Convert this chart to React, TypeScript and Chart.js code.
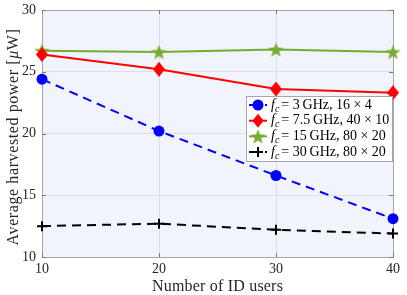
import React, { useEffect, useRef } from 'react';
import { Chart, registerables } from 'chart.js';
Chart.register(...registerables);

const users = [10, 20, 30, 40];
const power3GHz = [24.4, 20.2, 16.6, 13.1];
const power7GHz = [26.4, 25.2, 23.6, 23.3];
const power15GHz = [26.7, 26.6, 26.8, 26.6];
const power30GHz = [12.5, 12.7, 12.2, 11.9];
const legendFreqs = ['3', '7.5', '15', '30'];
const legendArrays = ['16 × 4', '40 × 10', '80 × 20', '80 × 20'];
const xTicks = [10, 20, 30, 40];
const yTicks = [10, 15, 20, 25, 30];

const FONT = '"Liberation Serif", "DejaVu Serif", serif';
const BLUE = '#0000FF';
const RED = '#FF0000';
const GREEN = '#77AC30';
const BLACK = '#000000';

function makeStar(size: number, color: string) {
  const c = document.createElement('canvas');
  c.width = size;
  c.height = size;
  const ctx = c.getContext('2d')!;
  const cx = size / 2, cy = size / 2 + size * 0.04;
  const R = size / 2 - 0.5, r = R * 0.42;
  ctx.beginPath();
  for (let i = 0; i < 10; i++) {
    const rad = i % 2 === 0 ? R : r;
    const a = -Math.PI / 2 + (i * Math.PI) / 5;
    const x = cx + rad * Math.cos(a), y = cy + rad * Math.sin(a);
    if (i === 0) ctx.moveTo(x, y); else ctx.lineTo(x, y);
  }
  ctx.closePath();
  ctx.fillStyle = color;
  ctx.fill();
  return c;
}

function drawMarker(ctx: CanvasRenderingContext2D, kind: string, x: number, y: number, star: HTMLCanvasElement) {
  ctx.save();
  ctx.setLineDash([]);
  if (kind === 'circle') {
    ctx.fillStyle = BLUE;
    ctx.beginPath();
    ctx.arc(x, y, 5.5, 0, Math.PI * 2);
    ctx.fill();
  } else if (kind === 'diamond') {
    ctx.fillStyle = RED;
    ctx.beginPath();
    ctx.moveTo(x, y - 7);
    ctx.lineTo(x + 5.5, y);
    ctx.lineTo(x, y + 7);
    ctx.lineTo(x - 5.5, y);
    ctx.closePath();
    ctx.fill();
  } else if (kind === 'star') {
    ctx.drawImage(star, x - star.width / 2, y - star.height / 2);
  } else {
    ctx.strokeStyle = BLACK;
    ctx.lineWidth = 2;
    ctx.beginPath();
    ctx.moveTo(x - 5, y);
    ctx.lineTo(x + 5, y);
    ctx.moveTo(x, y - 5);
    ctx.lineTo(x, y + 5);
    ctx.stroke();
  }
  ctx.restore();
}

export default function App() {
  const ref = useRef<HTMLCanvasElement>(null);
  useEffect(() => {
    document.body.style.margin = '0';
    const star = makeStar(17, GREEN);
    const diamond = document.createElement('canvas');
    diamond.width = 12; diamond.height = 15;
    {
      const d = diamond.getContext('2d')!;
      d.fillStyle = RED;
      d.beginPath();
      d.moveTo(6, 0); d.lineTo(12, 7.5); d.lineTo(6, 15); d.lineTo(0, 7.5);
      d.closePath(); d.fill();
    }
    const markers = ['circle', 'diamond', 'star', 'cross'];
    const colors = [BLUE, RED, GREEN, BLACK];
    const dashes = [[9, 6], [], [], [9, 6]];

    const framePlugin = {
      id: 'frame',
      beforeDraw(chart: any) {
        const { ctx, chartArea: a } = chart;
        ctx.save();
        ctx.fillStyle = '#FFFFFF';
        ctx.fillRect(0, 0, chart.width, chart.height);
        ctx.fillStyle = '#F1F5FB';
        ctx.fillRect(a.left, a.top, a.right - a.left, a.bottom - a.top);
        ctx.restore();
      },
      beforeDatasetsDraw(chart: any) {
        const { ctx, chartArea: a, scales } = chart;
        ctx.save();
        ctx.strokeStyle = '#A6A6A6';
        ctx.lineWidth = 1;
        ctx.setLineDash([]);
        ctx.strokeRect(Math.round(a.left) + 0.5, Math.round(a.top) + 0.5, Math.round(a.right - a.left), Math.round(a.bottom - a.top));
        ctx.strokeStyle = '#7A7A7A';
        ctx.beginPath();
        for (const v of yTicks) {
          const y = Math.round(scales.y.getPixelForValue(v)) + 0.5;
          ctx.moveTo(a.left, y); ctx.lineTo(a.left + 4, y);
          ctx.moveTo(a.right, y); ctx.lineTo(a.right - 4, y);
        }
        for (const v of xTicks) {
          const x = Math.round(scales.x.getPixelForValue(v)) + 0.5;
          ctx.moveTo(x, a.bottom); ctx.lineTo(x, a.bottom - 4);
          ctx.moveTo(x, a.top); ctx.lineTo(x, a.top + 4);
        }
        ctx.stroke();
        ctx.restore();
      },
      afterDraw(chart: any) {
        const { ctx, chartArea: a } = chart;
        ctx.save();
        // axis titles
        ctx.fillStyle = '#262626';
        ctx.textBaseline = 'middle';
        ctx.textAlign = 'center';
        ctx.font = `16px ${FONT}`;
        (ctx as any).letterSpacing = '0.2px';
        ctx.fillText('Number of ID users', (a.left + a.right) / 2, 287);
        // y title with italic mu
        ctx.save();
        ctx.translate(14, 137);
        ctx.rotate(-Math.PI / 2);
        (ctx as any).letterSpacing = '0.6px';
        const p1 = 'Average harvested power [';
        const p2 = 'μ';
        const p3 = 'W]';
        ctx.font = `16px ${FONT}`;
        const w1 = ctx.measureText(p1).width;
        const w3 = ctx.measureText(p3).width;
        ctx.font = `italic 16px ${FONT}`;
        const w2 = ctx.measureText(p2).width;
        let x = -(w1 + w2 + w3) / 2;
        ctx.textAlign = 'left';
        ctx.font = `16px ${FONT}`;
        ctx.fillText(p1, x, 0); x += w1;
        ctx.font = `italic 16px ${FONT}`;
        ctx.fillText(p2, x, 0); x += w2;
        ctx.font = `16px ${FONT}`;
        ctx.fillText(p3, x, 0);
        ctx.restore();
        (ctx as any).letterSpacing = '0px';

        // legend
        const lx = 246, ly = 96, lw = 146, lh = 65;
        ctx.fillStyle = '#FFFFFF';
        ctx.fillRect(lx, ly, lw, lh);
        ctx.strokeStyle = '#A6A6A6';
        ctx.lineWidth = 1;
        ctx.strokeRect(lx + 0.5, ly + 0.5, lw, lh);
        for (let i = 0; i < 4; i++) {
          const ry = ly + 9 + i * 15.7;
          ctx.strokeStyle = colors[i];
          ctx.lineWidth = 2;
          ctx.setLineDash(dashes[i].length ? [5, 3] : []);
          ctx.beginPath();
          ctx.moveTo(lx + 3, ry);
          ctx.lineTo(lx + 21, ry);
          ctx.stroke();
          ctx.setLineDash([]);
          drawMarker(ctx, markers[i], lx + 12, ry, star);
          let tx = lx + 25;
          ctx.fillStyle = '#000000';
          ctx.textAlign = 'left';
          ctx.textBaseline = 'middle';
          ctx.font = `italic 14px ${FONT}`;
          ctx.fillText('f', tx, ry);
          tx += ctx.measureText('f').width;
          ctx.font = `italic 10px ${FONT}`;
          ctx.fillText('c', tx, ry + 4);
          tx += ctx.measureText('c').width + 2;
          ctx.font = `14px ${FONT}`;
          const rest = `= ${legendFreqs[i]}\u2009GHz, ${legendArrays[i]}`;
          ctx.fillText(rest, tx, ry);
        }
        ctx.restore();
      },
    };

    const chart = new Chart(ref.current!, {
      type: 'line',
      data: {
        datasets: [
          {
            data: users.map((u, i) => ({ x: u, y: power3GHz[i] })),
            borderColor: BLUE, backgroundColor: BLUE, borderWidth: 2, borderDash: [9, 6],
            pointStyle: 'circle', pointRadius: 5.5, pointBorderWidth: 0, clip: false,
          },
          {
            data: users.map((u, i) => ({ x: u, y: power7GHz[i] })),
            borderColor: RED, backgroundColor: RED, borderWidth: 2,
            pointStyle: diamond as any, pointRadius: 7, clip: false,
          },
          {
            data: users.map((u, i) => ({ x: u, y: power15GHz[i] })),
            borderColor: GREEN, backgroundColor: GREEN, borderWidth: 2,
            pointStyle: star as any, pointRadius: 8, clip: false,
          },
          {
            data: users.map((u, i) => ({ x: u, y: power30GHz[i] })),
            borderColor: BLACK, backgroundColor: BLACK, borderWidth: 2, borderDash: [9, 6],
            pointStyle: 'cross', pointRadius: 5, pointBorderWidth: 2, clip: false,
          },
        ],
      },
      options: {
        responsive: false,
        animation: false,
        devicePixelRatio: 1,
        layout: { padding: { left: 0, right: 14, top: 9, bottom: 0 } },
        plugins: { legend: { display: false }, tooltip: { enabled: false } },
        elements: { line: { tension: 0 } },
        scales: {
          x: {
            type: 'linear', min: 10, max: 40,
            afterFit: (s: any) => { s.height = 38; s.paddingLeft = 0; s.paddingRight = 0; },
            afterBuildTicks: (s: any) => { s.ticks = xTicks.map((v) => ({ value: v })); },
            ticks: { color: '#262626', font: { family: FONT, size: 14 }, padding: 4, maxRotation: 0 },
            grid: { color: '#DCE0E6', drawTicks: false, lineWidth: 1 },
            border: { display: false },
          },
          y: {
            type: 'linear', min: 10, max: 30,
            afterFit: (s: any) => { s.width = 42; s.paddingTop = 0; s.paddingBottom = 0; },
            afterBuildTicks: (s: any) => { s.ticks = yTicks.map((v) => ({ value: v })); },
            ticks: { color: '#262626', font: { family: FONT, size: 14 }, padding: 6 },
            grid: { color: '#DCE0E6', drawTicks: false, lineWidth: 1 },
            border: { display: false },
          },
        },
      } as any,
      plugins: [framePlugin],
    });
    return () => chart.destroy();
  }, []);
  return (
    <div style={{ position: 'fixed', left: 0, top: 0, width: 407, height: 295 }}>
      <canvas ref={ref} width={407} height={295} style={{ width: 407, height: 295, display: 'block' }} />
    </div>
  );
}
